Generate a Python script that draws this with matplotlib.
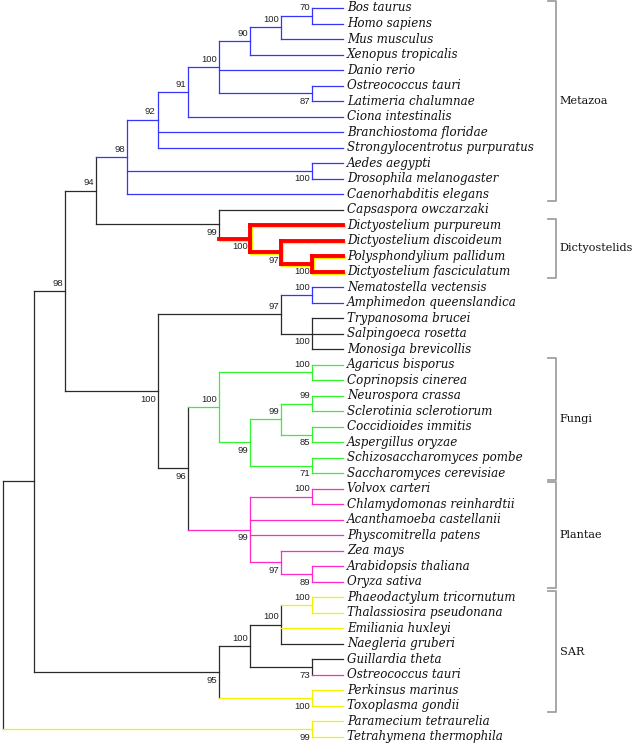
import matplotlib
matplotlib.use("Agg")
import matplotlib.pyplot as plt
from matplotlib.transforms import offset_copy

# tree in newick form, support values after the closing brackets
newick = ("(((((((((((Bos taurus,Homo sapiens)70,Mus musculus)100,Xenopus tropicalis)90,"
          "Danio rerio,(Ostreococcus tauri,Latimeria chalumnae)87)100,Ciona intestinalis)91,"
          "Branchiostoma floridae,Strongylocentrotus purpuratus)92,"
          "(Aedes aegypti,Drosophila melanogaster)100,Caenorhabditis elegans)98,"
          "(Capsaspora owczarzaki,(Dictyostelium purpureum,(Dictyostelium discoideum,"
          "(Polysphondylium pallidum,Dictyostelium fasciculatum)100)97)100)99)94,"
          "(((Nematostella vectensis,Amphimedon queenslandica)100,"
          "(Trypanosoma brucei,Salpingoeca rosetta,Monosiga brevicollis)100)97,"
          "(((Agaricus bisporus,Coprinopsis cinerea)100,"
          "(((Neurospora crassa,Sclerotinia sclerotiorum)99,"
          "(Coccidioides immitis,Aspergillus oryzae)85)99,"
          "(Schizosaccharomyces pombe,Saccharomyces cerevisiae)71)99)100,"
          "((Volvox carteri,Chlamydomonas reinhardtii)100,Acanthamoeba castellanii,"
          "Physcomitrella patens,(Zea mays,(Arabidopsis thaliana,Oryza sativa)89)97)99)96)100)98,"
          "((((Phaeodactylum tricornutum,Thalassiosira pseudonana)100,Emiliania huxleyi,"
          "Naegleria gruberi)100,(Guillardia theta,Ostreococcus tauri)73)100,"
          "(Perkinsus marinus,Toxoplasma gondii)100)95),"
          "(Paramecium tetraurelia,Tetrahymena thermophila)99)")

# leaf colours, in leaf order (colour, number of leaves)
leaf_colour_runs = [("blue", 13), ("black", 1), ("red", 4), ("blue", 2), ("black", 3),
                    ("green", 8), ("magenta", 7), ("yellow", 3), ("black", 2),
                    ("magenta", 1), ("yellow", 4)]

# clade brackets: name, first leaf, last leaf
groups = [("Metazoa", 0, 12), ("Dictyostelids", 14, 17), ("Fungi", 23, 30),
          ("Plantae", 31, 37), ("SAR", 38, 45)]

palette = {"blue": "#3535ff", "black": "#2a2a2a", "red": "#ff0000",
           "green": "#2ef52e", "magenta": "#ff28c8", "yellow": "#f2f200"}


def parse(s):
    pos = 0

    def node():
        nonlocal pos
        if s[pos] == "(":
            pos += 1
            kids = [node()]
            while s[pos] == ",":
                pos += 1
                kids.append(node())
            pos += 1  # ')'
            lab = ""
            while pos < len(s) and s[pos] not in ",()":
                lab += s[pos]
                pos += 1
            return {"kids": kids, "support": lab}
        name = ""
        while s[pos] not in ",()":
            name += s[pos]
            pos += 1
        return {"kids": [], "name": name}

    return node()


tree = parse(newick)

leaf_cols = []
for c, n in leaf_colour_runs:
    leaf_cols += [c] * n

leaves = []


def layout(nd):
    if not nd["kids"]:
        nd["y"] = len(leaves)
        nd["h"] = 0
        nd["col"] = leaf_cols[len(leaves)]
        leaves.append(nd)
        return
    for k in nd["kids"]:
        layout(k)
    nd["h"] = 1 + max(k["h"] for k in nd["kids"])
    nd["y"] = (nd["kids"][0]["y"] + nd["kids"][-1]["y"]) / 2
    cols = set(k["col"] for k in nd["kids"])
    nd["col"] = cols.pop() if len(cols) == 1 else "black"


layout(tree)
depth = tree["h"]

fig = plt.figure(figsize=(6.37, 7.46), dpi=100)
ax = fig.add_axes([0, 0, 1, 1])
ax.set_xlim(-3 / 30.9, (637 - 3) / 30.9)
ax.set_ylim((746 - 8) / 15.51, -8 / 15.51)
ax.axis("off")

glow = offset_copy(ax.transData, fig=fig, x=1, y=-1, units="dots")


def seg(xs, ys, col):
    if col == "red":
        ax.plot(xs, ys, color=palette["yellow"], lw=2.3, transform=glow,
                solid_capstyle="projecting", zorder=2)
        ax.plot(xs, ys, color=palette["red"], lw=2.8,
                solid_capstyle="projecting", zorder=3)
    else:
        ax.plot(xs, ys, color=palette[col], lw=0.9, zorder=1)


def draw(nd):
    x = depth - nd["h"]
    if not nd["kids"]:
        ax.text(depth + 0.13, nd["y"], nd["name"], ha="left", va="center",
                fontsize=8.6, style="italic", family="DejaVu Serif", color="#111111")
        return
    seg([x, x], [nd["kids"][0]["y"], nd["kids"][-1]["y"]], nd["col"])
    for i, k in enumerate(nd["kids"]):
        kx = depth - k["h"]
        seg([x, kx], [k["y"], k["y"]], k["col"])
        if k["kids"] and k.get("support"):
            dy = 5.6 if i == 0 else -5.8
            ax.annotate(k["support"], (kx, k["y"]), xytext=(-1.4, dy),
                        textcoords="offset points", ha="right", va="center",
                        fontsize=6.8, family="Liberation Sans", color="#222222")
        draw(k)


draw(tree)

# clade brackets
for name, a, b in groups:
    bx = (556 - 3) / 30.9
    tick = 8 / 30.9
    y0, y1 = a - 0.42, b + 0.42
    ax.plot([bx - tick, bx, bx, bx - tick], [y0, y0, y1, y1], color="#a0a0a0", lw=1.3)
    ax.text(bx + 0.12, (y0 + y1) / 2, name, ha="left", va="center",
            fontsize=8.1, family="DejaVu Serif", color="#111111")

fig.savefig("out.png", dpi=100)
